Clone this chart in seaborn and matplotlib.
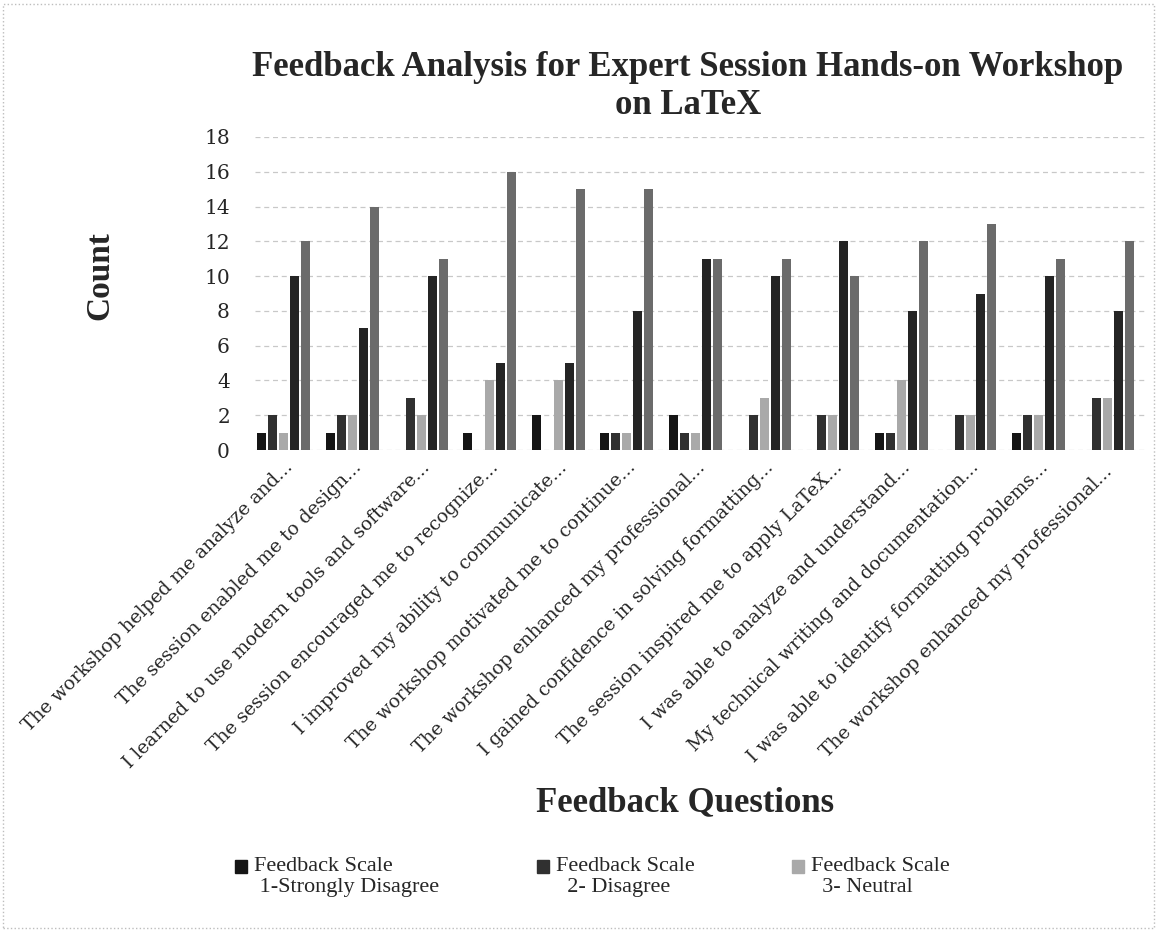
import matplotlib
matplotlib.use('Agg')
import matplotlib.pyplot as plt
import seaborn as sns
import pandas as pd
import numpy as np

questions = [
    "The workshop helped me analyze and...",
    "The session enabled me to design...",
    "I learned to use modern tools and software...",
    "The session encouraged me to recognize...",
    "I improved my ability to communicate...",
    "The workshop motivated me to continue...",
    "The workshop enhanced my professional...",
    "I gained confidence in solving formatting...",
    "The session inspired me to apply LaTeX...",
    "I was able to analyze and understand...",
    "My technical writing and documentation...",
    "I was able to identify formatting problems...",
    "The workshop enhanced my professional... ",
]

scale_names = [
    "Feedback Scale\n 1-Strongly Disagree",
    "Feedback Scale\n  2- Disagree",
    "Feedback Scale\n  3- Neutral",
    "Feedback Scale\n  4- Agree",
    "Feedback Scale\n  5- Strongly Agree",
]

scale1 = [1, 1, 0, 1, 2, 1, 2, 0, 0, 1, 0, 1, 0]
scale2 = [2, 2, 3, 0, 0, 1, 1, 2, 2, 1, 2, 2, 3]
scale3 = [1, 2, 2, 4, 4, 1, 1, 3, 2, 4, 2, 2, 3]
scale4 = [10, 7, 10, 5, 5, 8, 11, 10, 12, 8, 9, 10, 8]
scale5 = [12, 14, 11, 16, 15, 15, 11, 11, 10, 12, 13, 11, 12]

colors = ["#151515", "#303030", "#a9a9a9", "#242424", "#6b6b6b"]

# long form table for seaborn
rows = []
for name, vals in zip(scale_names, [scale1, scale2, scale3, scale4, scale5]):
    for q, v in zip(questions, vals):
        rows.append({"Question": q, "Scale": name, "Count": v})
df = pd.DataFrame(rows)

sns.set_style("white")
plt.rcParams['font.family'] = ['DejaVu Serif']

fig = plt.figure(figsize=(11.57, 9.34), dpi=100)
ax = fig.add_axes([255 / 1157, 484 / 934, 890 / 1157, 313 / 934])

sns.barplot(data=df, x="Question", y="Count", hue="Scale", palette=colors,
            width=0.8, gap=0.18, linewidth=0, ax=ax, legend=False)

ax.set_ylim(0, 18)
ax.set_yticks(np.arange(0, 19, 2))
ax.set_xlim(-0.42, 12.55)
ax.yaxis.grid(True, linestyle=(0, (4, 3)), color="#c8c8c8", linewidth=0.9)
ax.set_axisbelow(True)
for s in ax.spines.values():
    s.set_visible(False)
ax.tick_params(axis="both", length=0)
ax.tick_params(axis="y", labelsize=14.5, pad=18)
ax.set_xlabel("")
ax.set_ylabel("")
ax.set_xticks(range(len(questions)))
ax.set_xticklabels(questions, rotation=45, ha="right", rotation_mode="anchor",
                   fontsize=13.5)
ax.tick_params(axis="x", pad=6)

fig.text(688 / 1157, 0.945, "Feedback Analysis for Expert Session Hands-on Workshop\non LaTeX",
         ha="center", va="top", fontsize=25, fontweight="bold",
         family="Liberation Serif", linespacing=1.2)
fig.text(100 / 1157, 0.705, "Count", rotation=90, ha="center", va="center",
         fontsize=24, fontweight="bold", family="Liberation Serif")
fig.text(685 / 1157, 0.141, "Feedback Questions", ha="center", va="center",
         fontsize=25, fontweight="bold", family="Liberation Serif")

handles = [plt.Rectangle((0, 0), 1, 1, color=c) for c in colors[:3]]
leg = fig.legend(handles, scale_names[:3], loc="center", ncol=3,
                 bbox_to_anchor=(0.512, 0.061), bbox_transform=fig.transFigure,
                 frameon=False, handlelength=0.55, handleheight=0.55,
                 handletextpad=0.3, columnspacing=4.4, labelspacing=0.6,
                 prop={"family": "Liberation Serif", "size": 16})
# put the square next to the first line of each label
for p in leg.get_patches():
    p.set_y(p.get_y() + 7)

# faint scan border
fig.add_artist(plt.Rectangle((0.003, 0.006), 0.994, 0.99, transform=fig.transFigure,
                             fill=False, edgecolor="#bdbdbd", linestyle=":", linewidth=1))

fig.savefig("out.png", dpi=100)
plt.close()
